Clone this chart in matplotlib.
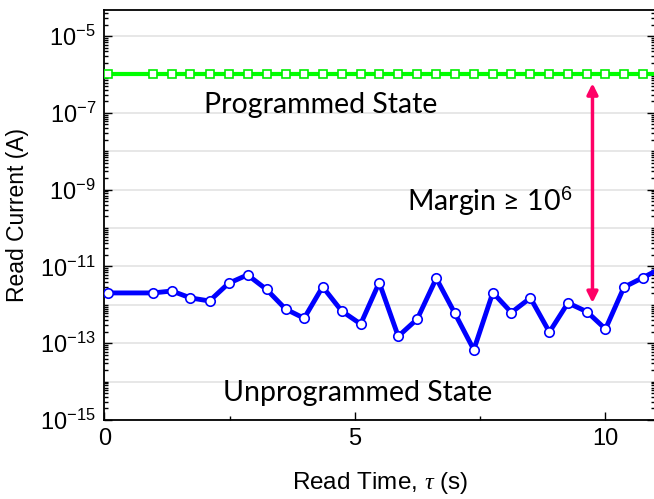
import matplotlib
matplotlib.use("Agg")
import matplotlib.pyplot as plt
import numpy as np
from matplotlib.ticker import LogLocator, NullFormatter, FixedLocator

plt.rcParams["font.family"] = ["Liberation Sans", "DejaVu Sans"]
plt.rcParams["mathtext.fontset"] = "custom"
plt.rcParams["mathtext.rm"] = "Liberation Sans"
plt.rcParams["mathtext.it"] = "Liberation Serif:italic"
plt.rcParams["mathtext.default"] = "rm"

# Data
read_time = [0.08, 0.97, 1.35, 1.72, 2.10, 2.48, 2.86, 3.24, 3.62, 3.99, 4.36,
             4.74, 5.12, 5.49, 5.87, 6.25, 6.63, 7.00, 7.38, 7.76, 8.13, 8.51,
             8.89, 9.26, 9.64, 10.01, 10.38, 10.76, 11.13]
log_unprog = [-11.69, -11.69, -11.64, -11.82, -11.90, -11.44, -11.22, -11.60,
              -12.11, -12.35, -11.53, -12.16, -12.50, -11.42, -12.82, -12.37,
              -11.31, -12.22, -13.17, -11.68, -12.20, -11.82, -12.71, -11.95,
              -12.18, -12.63, -11.54, -11.29, -11.04]
prog_current = [1e-6] * len(read_time)
unprog_current = [10 ** v for v in log_unprog]

arrow_x = 9.75
arrow_top = 10 ** -6.23
arrow_bottom = 10 ** -11.95

fig = plt.figure(figsize=(6.54, 4.99), dpi=100)
ax = fig.add_axes([0.1596, 0.1583, 0.8420, 0.8217])

ax.set_yscale("log")
ax.set_xlim(0, 11)
ax.set_ylim(1e-15, 10 ** -4.32)

for d in range(-15, -4):
    ax.axhline(10.0 ** d, color="#e3e3e3", lw=1.2, zorder=0)

ax.plot(read_time, prog_current, color="#00ff00", lw=3, marker="s", ms=6,
        mfc="white", mec="#00ee00", mew=1.2, zorder=3, clip_on=True)
ax.plot(read_time, unprog_current, color="#0000ff", lw=3.5, marker="o", ms=6.8,
        mfc="white", mec="#0000ff", mew=1.2, zorder=3, clip_on=True)

ax.annotate("", xy=(arrow_x, arrow_top), xytext=(arrow_x, arrow_bottom),
            arrowprops=dict(arrowstyle="<|-|>", color="#ff0066", lw=2.5,
                            mutation_scale=16, shrinkA=0, shrinkB=0), zorder=4)

tfont = ["Lato", "DejaVu Sans"]
ax.text(4.33, 10 ** -6.8, "Programmed State", fontsize=20.5, family=tfont,
        ha="center", va="center")
ax.text(5.06, 10 ** -14.3, "Unprogrammed State", fontsize=20.5, family=tfont,
        ha="center", va="center")
ax.text(6.05, 10 ** -9.32, "Margin \u2265 10$^{6}$", fontsize=20.5, family=tfont,
        ha="left", va="center")

major = [10.0 ** d for d in range(-15, -4, 2)]
ax.yaxis.set_major_locator(FixedLocator(major))
ax.set_yticklabels([r"10$^{%d}$" % d for d in range(-15, -4, 2)])
ax.yaxis.set_minor_locator(LogLocator(base=10, subs=np.arange(1, 10), numticks=30))
ax.yaxis.set_minor_formatter(NullFormatter())

ax.set_xticks([0, 5, 10])
ax.set_xticks([2.5, 7.5], minor=True)

ax.tick_params(axis="both", which="both", direction="in", right=True, top=False,
               labelsize=17, pad=6)
ax.tick_params(axis="both", which="major", length=6, width=1)
ax.tick_params(axis="both", which="minor", length=3, width=1)

for s in ax.spines.values():
    s.set_linewidth(1.3)

ax.set_ylabel("Read Current (A)", fontsize=16.5, labelpad=8)
ax.set_xlabel(r"Read Time, $\mathit{\tau}$ (s)", fontsize=17.5, labelpad=14)

fig.savefig("out.png", dpi=100)
